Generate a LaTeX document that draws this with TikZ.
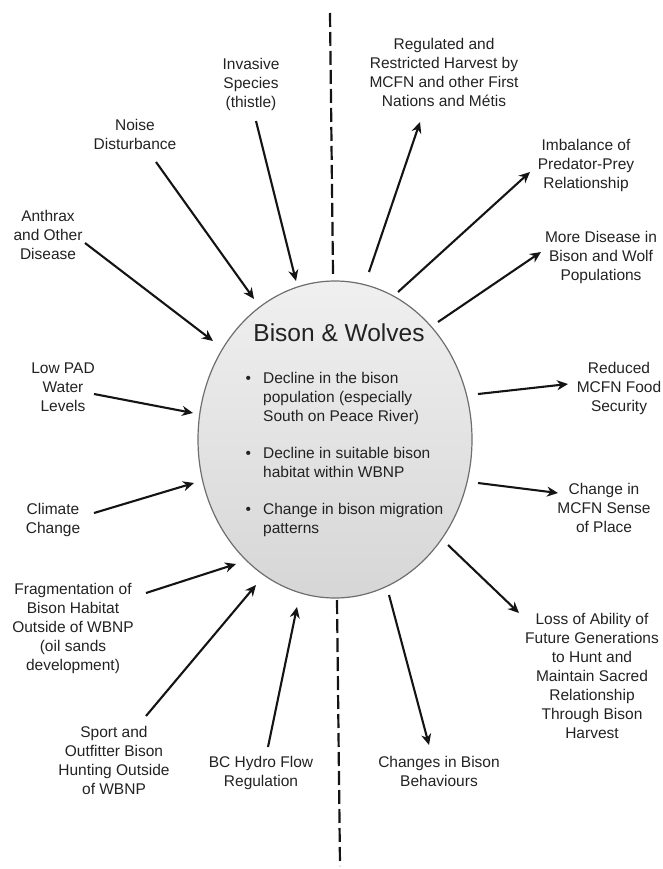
\documentclass[tikz,border=0pt]{standalone}
\usepackage{fontspec}
\setmainfont{Liberation Sans}
\usetikzlibrary{arrows.meta,shapes.geometric}
\definecolor{txt}{HTML}{222222}
\definecolor{rim}{HTML}{6E6E6E}
\begin{document}
\begin{tikzpicture}[x=1pt,y=-1pt,
  lbl/.style={align=center, text=txt, font=\fontsize{15.5}{19}\selectfont, inner sep=0pt},
  arr/.style={line width=2.1pt, draw=black!92, -{Stealth[length=11pt,width=10pt,inset=3.5pt]}},
  divider/.style={line width=2.2pt, draw=black!92, dash pattern=on 14pt off 5pt},
  hub/.style={ellipse, draw=rim, line width=1.2pt, top color=gray!12, bottom color=gray!32,
    minimum width=274pt, minimum height=317pt, inner sep=0pt}]
\useasboundingbox (0,0) rectangle (663,869);

% dashed divider
\coordinate (d1) at (330,13);
\coordinate (d2) at (333,274);
\coordinate (d3) at (337,600);
\coordinate (d4) at (340,866);
\draw[divider] (d1) -- (d2);
\draw[divider] (d3) -- (d4);

% central ellipse
\node[hub] (E) at (335,439.5) {};
\node[anchor=base, text=txt, inner sep=0pt, font=\fontsize{24.5}{29}\selectfont] (title) at (339,341.5) {Bison \& Wolves};
\node[anchor=base west, inner sep=0pt, text=txt, font=\fontsize{15.5}{19}\selectfont] (list) at (245.3,383.5)
 {\begin{tabular}[t]{@{}p{17.7pt}@{}l@{}}
  \textbullet & Decline in the bison\\
   & population (especially\\
   & South on Peace River)\\[17.5pt]
  \textbullet & Decline in suitable bison\\
   & habitat within WBNP\\[18pt]
  \textbullet & Change in bison migration\\
   & patterns
 \end{tabular}};

% labels
\node[lbl] (inv) at (251,84.5) {Invasive\\Species\\(thistle)};
\node[lbl] (noise) at (135,134.5) {Noise\\Disturbance};
\node[lbl] (anth) at (48,235) {Anthrax\\and Other\\Disease};
\node[lbl] (pad) at (63,387) {Low PAD\\Water\\Levels};
\node[lbl] (clim) at (53,520) {Climate\\Change};
\node[lbl] (frag) at (73,628) {Fragmentation of\\Bison Habitat\\Outside of WBNP\\(oil sands\\development)};
\node[lbl] (sport) at (114,760) {Sport and\\Outfitter Bison\\Hunting Outside\\of WBNP};
\node[lbl] (bch) at (261,772.5) {BC Hydro Flow\\Regulation};
\node[lbl] (chg) at (439,771) {Changes in Bison\\Behaviours};
\node[lbl] (loss) at (592,676) {Loss of Ability of\\Future Generations\\to Hunt and\\Maintain Sacred\\Relationship\\Through Bison\\Harvest};
\node[lbl] (place) at (604,508) {Change in\\MCFN Sense\\of Place};
\node[lbl] (food) at (619,388.5) {Reduced\\MCFN Food\\Security};
\node[lbl] (dis) at (601,257) {More Disease in\\Bison and Wolf\\Populations};
\node[lbl] (imb) at (586,165.5) {Imbalance of\\Predator-Prey\\Relationship};
\node[lbl] (reg) at (444,72) {Regulated and\\Restricted Harvest by\\MCFN and other First\\Nations and Métis};

% arrow end points
\coordinate (invS) at (256,121);   \coordinate (invT) at (296,281);
\coordinate (noiS) at (156,162);   \coordinate (noiT) at (254,299);
\coordinate (antS) at (85,243);    \coordinate (antT) at (213,341);
\coordinate (padS) at (94,394);    \coordinate (padT) at (193,413);
\coordinate (cliS) at (94,513);    \coordinate (cliT) at (194,483);
\coordinate (fraS) at (146,593);   \coordinate (fraT) at (236,564);
\coordinate (spoS) at (146,716);   \coordinate (spoT) at (256,585);
\coordinate (bchS) at (268,747);   \coordinate (bchT) at (297,607);
\coordinate (regS) at (369,272);   \coordinate (regT) at (420,122);
\coordinate (imbS) at (398,292);   \coordinate (imbT) at (530,172);
\coordinate (disS) at (438,322);   \coordinate (disT) at (541,252);
\coordinate (fooS) at (478,394);   \coordinate (fooT) at (568,384);
\coordinate (plaS) at (478,483);   \coordinate (plaT) at (558,493);
\coordinate (losS) at (448,545);   \coordinate (losT) at (519,613);
\coordinate (chgS) at (389,595);   \coordinate (chgT) at (429,745);

\draw[arr] (invS) -- (invT);
\draw[arr] (noiS) -- (noiT);
\draw[arr] (antS) -- (antT);
\draw[arr] (padS) -- (padT);
\draw[arr] (cliS) -- (cliT);
\draw[arr] (fraS) -- (fraT);
\draw[arr] (spoS) -- (spoT);
\draw[arr] (bchS) -- (bchT);
\draw[arr] (regS) -- (regT);
\draw[arr] (imbS) -- (imbT);
\draw[arr] (disS) -- (disT);
\draw[arr] (fooS) -- (fooT);
\draw[arr] (plaS) -- (plaT);
\draw[arr] (losS) -- (losT);
\draw[arr] (chgS) -- (chgT);
\end{tikzpicture}
\end{document}
